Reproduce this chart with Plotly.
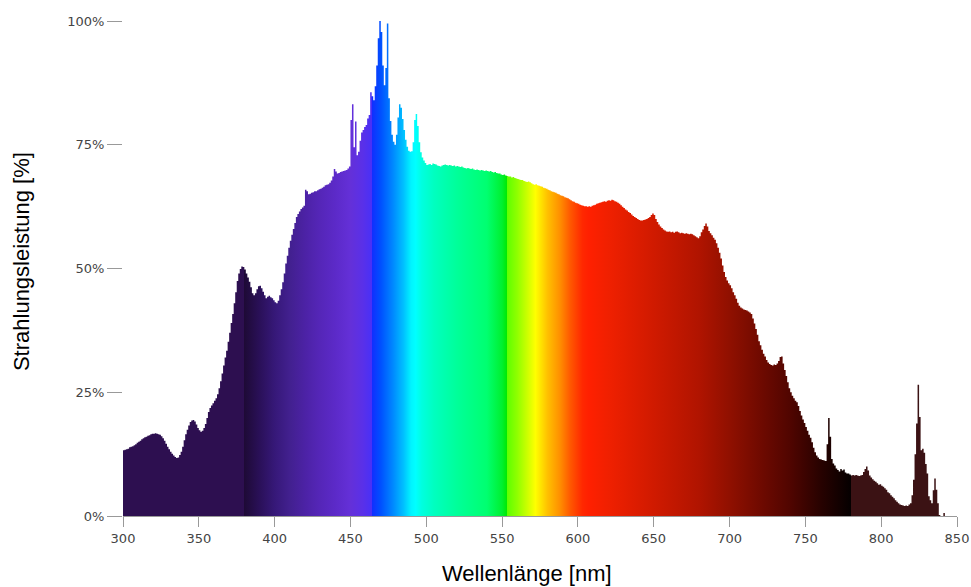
import plotly.graph_objects as go

# Spectral radiant power, 1 nm steps from 300 nm to 845 nm (percent of peak)
wl_start = 300
power_pct = [
    # 300-349
    13.3, 13.4, 13.5, 13.6, 13.9, 14.0, 14.1, 14.3, 14.5, 14.8,
    15.0, 15.2, 15.5, 15.7, 15.9, 16.0, 16.2, 16.3, 16.5, 16.6,
    16.6, 16.7, 16.6, 16.5, 16.4, 16.1, 15.7, 15.2, 14.6, 14.0,
    13.5, 13.0, 12.6, 12.2, 11.9, 11.7, 11.8, 12.3, 13.0, 14.0,
    15.3, 16.5, 17.4, 18.3, 19.0, 19.3, 19.4, 19.1, 18.5, 17.8,
    # 350-399
    17.3, 17.0, 17.2, 17.8, 18.6, 19.8, 21.0, 21.8, 22.3, 22.8,
    23.3, 23.8, 24.6, 25.8, 27.2, 28.8, 30.4, 32.0, 33.4, 35.2,
    37.0, 39.0, 40.8, 43.0, 45.2, 47.5, 49.0, 49.9, 50.4, 50.3,
    49.8, 49.0, 48.2, 47.3, 46.2, 45.0, 44.6, 45.0, 45.8, 46.4,
    46.5, 46.0, 45.3, 44.6, 44.0, 44.3, 44.5, 44.2, 44.0, 43.6,
    # 400-449
    43.2, 43.0, 43.5, 44.6, 45.8, 47.2, 49.0, 51.0, 52.6, 54.2,
    55.6, 56.8, 58.0, 59.2, 60.4, 61.0, 61.5, 62.0, 62.3, 62.7,
    65.9, 65.6, 65.0, 65.1, 65.3, 65.4, 65.6, 65.6, 65.8, 66.0,
    66.1, 66.3, 66.5, 66.8, 66.9, 67.0, 67.3, 67.8, 68.6, 70.1,
    69.6, 69.2, 69.3, 69.5, 69.6, 69.7, 69.8, 69.9, 70.2, 70.6,
    # 450-499
    80.0, 83.2, 74.5, 79.7, 72.9, 73.6, 75.8, 77.5, 78.0, 78.6,
    79.0, 80.3, 81.0, 85.6, 84.8, 84.0, 86.8, 91.0, 96.5, 100.0,
    97.8, 91.0, 87.0, 90.5, 99.5, 84.4, 79.8, 77.0, 75.6, 75.0,
    77.0, 80.5, 83.2, 82.5, 80.2, 78.0, 76.0, 74.6, 73.8, 73.6,
    73.7, 75.5, 80.0, 81.2, 78.8, 75.5, 73.5, 72.4, 71.8, 71.3,
    # 500-549
    70.9, 71.0, 71.1, 70.9, 71.2, 71.1, 71.0, 70.8, 70.7, 70.6,
    70.8, 70.9, 71.0, 70.9, 70.8, 70.9, 70.8, 70.7, 70.8, 70.6,
    70.7, 70.6, 70.5, 70.6, 70.4, 70.3, 70.2, 70.3, 70.2, 70.1,
    70.2, 70.0, 69.9, 70.0, 69.9, 69.8, 69.9, 69.8, 69.7, 69.8,
    69.7, 69.6, 69.7, 69.5, 69.4, 69.5, 69.3, 69.2, 69.2, 69.0,
    # 550-599
    68.9, 69.0, 68.8, 68.7, 68.6, 68.6, 68.4, 68.5, 68.3, 68.2,
    68.1, 68.0, 67.9, 67.9, 67.7, 67.6, 67.5, 67.6, 67.4, 67.2,
    67.0, 66.9, 67.0, 66.8, 66.7, 66.6, 66.5, 66.3, 66.2, 66.1,
    65.9, 65.8, 65.6, 65.5, 65.4, 65.3, 65.1, 65.0, 64.8, 64.7,
    64.6, 64.4, 64.3, 64.2, 64.0, 63.8, 63.6, 63.5, 63.3, 63.2,
    # 600-649
    63.1, 62.9, 62.8, 62.7, 62.6, 62.6, 62.5, 62.6, 62.5, 62.7,
    62.8, 62.9, 63.1, 63.2, 63.3, 63.4, 63.5, 63.6, 63.5, 63.7,
    63.8, 63.7, 63.9, 63.8, 63.6, 63.5, 63.3, 63.1, 62.8, 62.5,
    62.2, 61.9, 61.7, 61.4, 61.2, 60.9, 60.6, 60.4, 60.2, 60.0,
    59.8, 59.7, 59.7, 59.8, 59.9, 60.0, 60.2, 60.4, 60.8, 61.1,
    # 650-699
    60.8, 60.0, 59.4, 58.9, 58.5, 58.2, 57.9, 57.7, 57.5, 57.4,
    57.5, 57.3, 57.4, 57.2, 57.4, 57.5, 57.3, 57.1, 57.2, 57.1,
    57.0, 57.1, 57.0, 56.9, 57.0, 56.9, 56.7, 56.5, 56.3, 56.1,
    56.5, 57.3, 57.9, 58.6, 59.1, 58.5, 57.6, 57.1, 56.7, 56.2,
    55.8, 55.1, 54.2, 53.2, 52.0, 50.6, 49.3, 48.3, 47.6, 47.0,
    # 700-749
    46.6, 46.0, 45.2, 44.6, 43.9, 43.1, 42.5, 42.1, 41.9, 41.7,
    41.6, 41.5, 41.3, 41.1, 40.8, 39.9, 38.9, 37.8, 36.6, 35.3,
    34.5, 33.6, 32.8, 32.2, 31.5, 31.0, 30.7, 30.5, 30.4, 30.6,
    30.5, 30.8, 31.3, 32.1, 32.2, 30.8, 29.5, 28.3, 27.0, 25.8,
    25.0, 24.3, 23.8, 23.3, 23.0, 22.2, 21.2, 20.3, 19.5, 18.8,
    # 750-799
    18.0, 17.2, 16.4, 15.8, 14.9, 13.8, 12.9, 12.2, 11.8, 11.5,
    11.4, 11.3, 11.2, 11.1, 14.5, 19.8, 16.0, 11.5, 10.6, 10.2,
    9.6, 9.3, 9.0, 9.5, 9.2, 9.4, 8.8, 8.6, 8.6, 8.4,
    8.2, 8.3, 8.2, 8.3, 8.2, 8.1, 8.2, 8.3, 8.9, 9.5,
    10.0, 9.2, 8.2, 7.8, 7.4, 7.1, 6.9, 6.6, 6.3, 6.4,
    # 800-845
    6.1, 5.9, 5.6, 5.3, 4.8, 4.6, 4.2, 3.9, 3.6, 3.2,
    2.9, 2.6, 2.3, 2.2, 2.1, 2.0, 2.1, 2.0, 2.3, 2.6,
    4.2, 7.3, 12.5, 18.7, 26.5, 20.0, 13.3, 13.6, 12.8, 10.5,
    8.6, 4.0, 3.2, 2.6, 5.2, 7.6, 5.3, 2.6, 0.2, 0.0,
    0.0, 0.6, 0.0, 0.0, 0.0, 0.0,
]
wavelengths = [wl_start + i for i in range(len(power_pct))]

x_ticks = [300, 350, 400, 450, 500, 550, 600, 650, 700, 750, 800, 850]
y_ticks = [0, 25, 50, 75, 100]
y_tick_text = ["0%", "25%", "50%", "75%", "100%"]

X_MIN, X_MAX = 300, 850

# Wavelength -> display colour stops (nm, hex)
color_stops = [
    (300.0, "#2d0f50"), (379.9, "#2d0f50"),
    (380.0, "#1e0a36"), (390.0, "#2a1058"), (400.0, "#361878"),
    (410.0, "#42208f"), (420.0, "#4c22a5"), (430.0, "#5526b8"),
    (440.0, "#5c2ac8"), (450.0, "#6430d8"), (458.0, "#5a30e8"),
    (464.4, "#4830f8"),
    (464.5, "#1030ff"), (470.0, "#0050ff"), (478.0, "#0088ff"),
    (485.0, "#00c0ff"), (490.0, "#00f4ff"), (493.0, "#00ffff"),
    (497.0, "#00ffe0"), (505.0, "#00ffc0"), (520.0, "#00ff9a"),
    (540.0, "#00ff70"), (550.0, "#00f030"), (553.4, "#00e800"),
    (553.5, "#60ff00"), (560.0, "#90ff00"),
    (567.0, "#d0ff00"), (572.0, "#ffff00"), (576.0, "#ffe000"),
    (580.0, "#ffc000"), (588.0, "#ff9000"), (595.0, "#ff5800"),
    (603.0, "#ff2800"), (607.0, "#ff2000"), (620.0, "#f02000"),
    (650.0, "#d01a00"), (680.0, "#b01400"), (700.0, "#901000"),
    (720.0, "#700a00"), (740.0, "#500500"), (760.0, "#280200"),
    (779.9, "#050000"),
    (780.0, "#3b1214"), (850.0, "#3b1214"),
]
spectrum_scale = [[(w - X_MIN) / (X_MAX - X_MIN), c] for w, c in color_stops]

fig = go.Figure(
    go.Scatter(
        x=wavelengths,
        y=power_pct,
        mode="lines",
        line=dict(shape="hv", width=0, color="rgba(0,0,0,0)"),
        fill="tozeroy",
        fillgradient=dict(
            type="horizontal",
            colorscale=spectrum_scale,
            start=X_MIN,
            stop=X_MAX,
        ),
        hoverinfo="x+y",
    )
)

tick_font = dict(family="DejaVu Sans", size=13, color="#444444")
title_font = dict(family="Liberation Sans", size=22, color="#000000")

fig.update_layout(
    width=971,
    height=587,
    autosize=False,
    margin=dict(l=123, r=14, t=21, b=71, autoexpand=False),
    paper_bgcolor="white",
    plot_bgcolor="white",
    showlegend=False,
    xaxis=dict(
        range=[X_MIN, X_MAX],
        tickvals=x_ticks,
        ticktext=[str(v) for v in x_ticks],
        ticks="outside",
        ticklen=10,
        tickwidth=1,
        tickcolor="#999999",
        showline=True,
        linecolor="#999999",
        linewidth=1,
        showgrid=False,
        zeroline=False,
        automargin=False,
        tickfont=tick_font,
    ),
    yaxis=dict(
        range=[0, 100],
        tickvals=y_ticks,
        ticktext=y_tick_text,
        ticks="outside",
        ticklen=15,
        tickwidth=1,
        tickcolor="#999999",
        showline=False,
        showgrid=False,
        zeroline=False,
        automargin=False,
        tickfont=tick_font,
    ),
    annotations=[
        dict(
            text="Wellenlänge [nm]",
            xref="paper", yref="paper",
            x=0.485, y=-0.1152,
            xanchor="center", yanchor="middle",
            showarrow=False,
            font=title_font,
        ),
        dict(
            text="Strahlungsleistung [%]",
            xref="paper", yref="paper",
            x=-0.1223, y=0.513,
            xanchor="center", yanchor="middle",
            textangle=-90,
            showarrow=False,
            font=title_font,
        ),
    ],
)

fig.write_html("out.html", config={"responsive": False})
